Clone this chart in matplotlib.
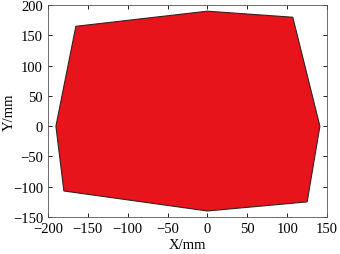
import matplotlib
matplotlib.use("Agg")
import matplotlib.pyplot as plt

plt.rcParams['font.family'] = ['Liberation Serif', 'DejaVu Serif']

# polygon vertices (mm)
x_pts = [-165, 0, 107, 141, 125, 0, -180, -190]
y_pts = [165, 190, 180, 0, -125, -140, -107, 0]

fig = plt.figure(figsize=(3.4, 2.55), dpi=100)
ax = fig.add_axes([0.141, 0.145, 0.821, 0.831])
ax.fill(x_pts, y_pts, facecolor='#E8141C', edgecolor='#3a2020', linewidth=0.8)

ax.set_xlim(-200, 150)
ax.set_ylim(-150, 200)
ax.set_xticks(range(-200, 151, 50))
ax.set_yticks(range(-150, 201, 50))
ax.tick_params(direction='in', top=True, right=True, labelsize=10.5, length=3, width=0.6)
for s in ax.spines.values():
    s.set_linewidth(0.6)
    s.set_color('#555555')
ax.set_xlabel('X/mm', fontsize=10.5, labelpad=2)
ax.set_ylabel('Y/mm', fontsize=10.5)
ax.yaxis.set_label_coords(-0.115, 0.5)

fig.savefig('out.png', dpi=100)
